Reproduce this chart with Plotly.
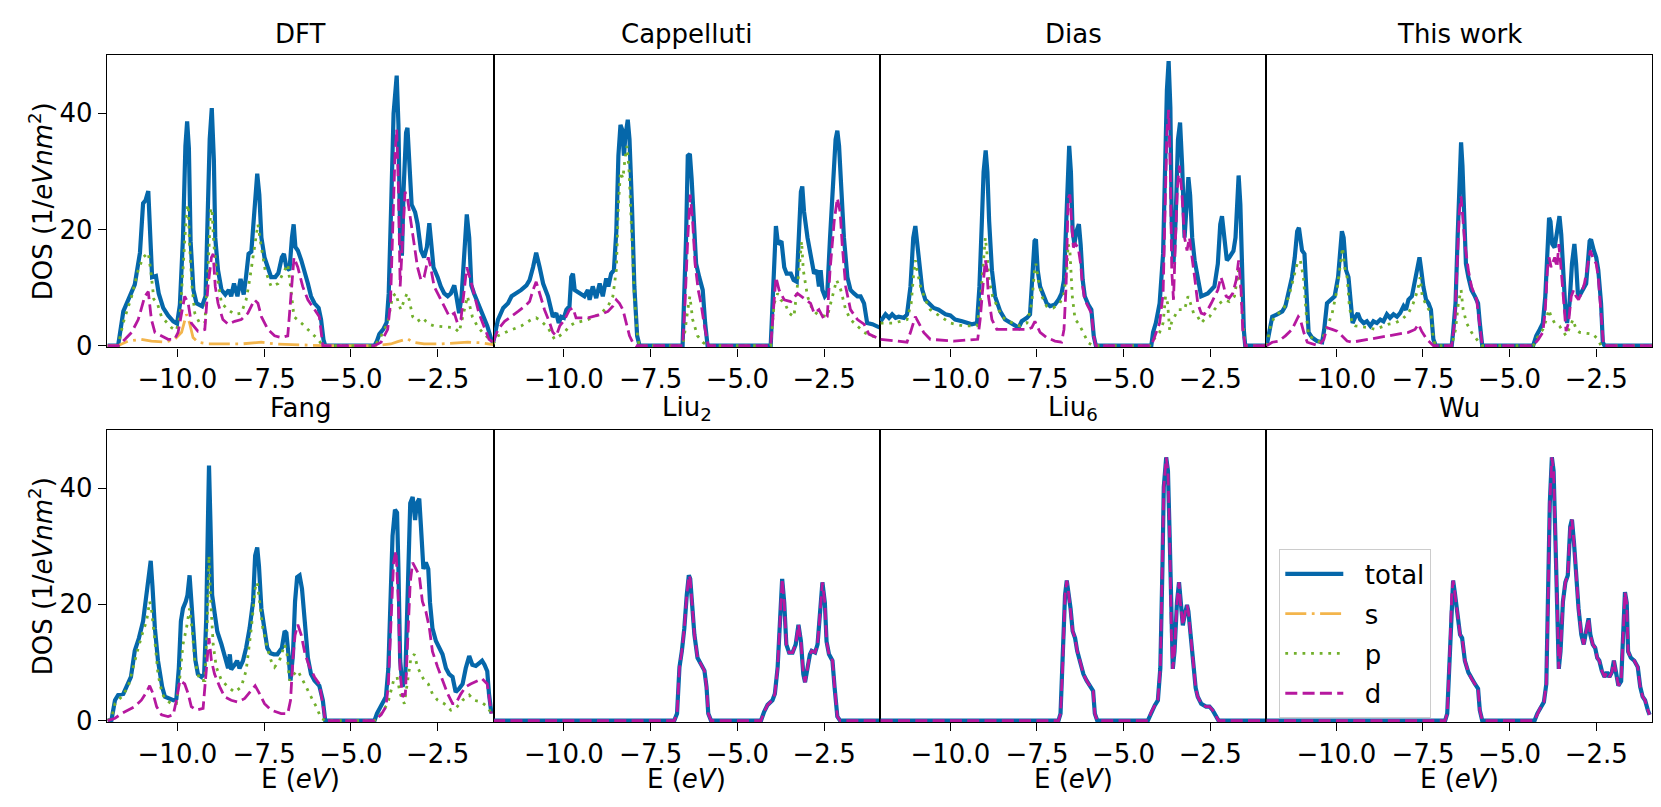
import plotly.graph_objects as go

# ---------------- data (energy in eV, DOS in 1/(eV nm^2)) ----------------
TITLES = ["DFT", "Cappelluti", "Dias", "This work", "Fang", "Liu<sub>2</sub>", "Liu<sub>6</sub>", "Wu"]
SERIES = ["total", "s", "p", "d"]
XTICK_VALS = [-10.0, -7.5, -5.0, -2.5]
XTICK_TEXT = ["\u221210.0", "\u22127.5", "\u22125.0", "\u22122.5"]
YTICK_VALS = [0, 20, 40]

# DFT
DFT_total_E = [-12.01, -11.71, -11.56, -11.37, -11.23, -11.08, -10.99, -10.92, -10.84, -10.73, -10.62, -10.54, -10.41, -10.27, -10.12, -10.01,
               -9.93, -9.84, -9.77, -9.72, -9.67, -9.62, -9.54, -9.45, -9.29, -9.19, -9.12, -9.07, -9.01, -8.95, -8.91, -8.83, -8.73, -8.62,
               -8.52, -8.45, -8.37, -8.27, -8.18, -8.09, -8.02, -7.95, -7.87, -7.80, -7.76, -7.70, -7.64, -7.58, -7.49, -7.39, -7.30, -7.18,
               -7.09, -6.99, -6.93, -6.86, -6.77, -6.70, -6.65, -6.60, -6.53, -6.43, -6.34, -6.24, -6.15, -6.05, -5.93, -5.86, -5.79, -5.74,
               -4.32, -4.25, -4.18, -4.07, -3.97, -3.91, -3.84, -3.77, -3.68, -3.63, -3.58, -3.53, -3.48, -3.41, -3.37, -3.32, -3.25, -3.15,
               -3.08, -2.98, -2.89, -2.81, -2.74, -2.70, -2.62, -2.50, -2.41, -2.31, -2.21, -2.12, -2.02, -1.96, -1.88, -1.81, -1.74, -1.66,
               -1.59, -1.53, -1.45, -1.33, -1.24, -1.14, -1.07, -0.95, -0.90]
DFT_total = [0, 0, 5.9, 8.5, 10.5, 16, 24.5, 25, 26.6, 11.8, 12, 9, 6.5, 5.2, 4.2, 3.8,
             7, 18.6, 34.4, 38.6, 34, 18, 9.6, 7.3, 6.8, 8.5, 24, 35.5, 40.9, 32, 18.6, 13, 9.6, 8.8,
             9.6, 8.5, 10.7, 8.5, 11.5, 8.8, 12, 15.8, 16.2, 22, 27, 29.6, 26, 18.6, 15.2, 13.5, 11.8, 11.8,
             12.5, 15.2, 15.8, 13.5, 13, 18.6, 20.9, 17, 16.4, 14.7, 13, 10.7, 8.5, 7.3, 6.5, 4.5, 1, 0,
             0, 0.8, 2, 2.8, 4, 9, 24, 40, 46.5, 38, 18.6, 15.5, 27, 36.7, 37.5, 33, 24.3, 23,
             21, 16.4, 15.2, 17, 21.1, 18.6, 13.5, 11.8, 10.2, 9, 8.5, 9, 10.4, 8.5, 5.6, 8.5, 16.4, 22.6,
             18.6, 10.4, 9, 7.3, 5.6, 4.5, 3.4, 1, 0.5]
DFT_s_E = [-12.01, -11.71, -11.42, -11.04, -10.75, -10.36, -10.08, -9.88, -9.74, -9.65, -9.55, -9.41, -9.12, -8.16, -7.58, -7.20, -6.24, -5.81,
           -4.32, -3.85, -3.65, -3.37, -3.22, -2.89, -2.41, -1.63, -1.25, -0.90]
DFT_s = [0, 0, 0.8, 1.1, 0.8, 0.6, 1.1, 2.3, 5.4, 3.9, 1.4, 0.6, 0.3, 0.3, 0.6, 0.3, 0.1, 0,
         0, 0.3, 0.7, 1.2, 0.6, 0.3, 0.3, 0.6, 0.5, 0.2]
DFT_p_E = [-12.01, -11.71, -11.56, -11.32, -11.13, -10.99, -10.84, -10.77, -10.68, -10.58, -10.46, -10.17, -10.03, -9.93, -9.84, -9.74, -9.69,
           -9.65, -9.58, -9.50, -9.36, -9.21, -9.12, -9.04, -9.00, -8.95, -8.88, -8.73, -8.54, -8.35, -8.16, -8.02, -7.92, -7.78, -7.68,
           -7.58, -7.47, -7.30, -7.10, -6.91, -6.82, -6.74, -6.64, -6.43, -6.24, -5.95, -5.81,
           -4.32, -4.18, -3.94, -3.80, -3.70, -3.63, -3.56, -3.46, -3.38, -3.32, -3.22, -3.08, -2.93, -2.84, -2.74, -2.60, -2.02, -1.88,
           -1.74, -1.64, -1.50, -1.36, -1.21, -1.02, -0.90]
DFT_p = [0, 0, 4, 8.5, 13, 15.2, 16, 13, 8, 7.3, 5, 3.1, 2.6, 5, 13, 23, 24.3,
         17.5, 10.2, 5.6, 3.9, 3.9, 13, 23.7, 23, 17.5, 13, 7.3, 6.2, 5.4, 5.6, 7.9, 11.3, 16.9, 20.9,
         16.9, 13, 10.2, 10.7, 13, 14, 10.2, 5, 3.9, 2.8, 1.1, 0,
         0, 1.1, 3.9, 8.5, 9, 7.3, 6.2, 7.9, 9, 7.9, 5, 4.2, 4.8, 4.2, 3.7, 3.4, 3.1, 2.3,
         6.2, 8.5, 5, 3.4, 2.3, 1.1, 0.5]
DFT_d_E = [-12.01, -11.71, -11.51, -11.32, -11.13, -10.94, -10.84, -10.75, -10.65, -10.46, -10.27, -10.08, -9.98, -9.88, -9.79, -9.69, -9.60,
           -9.41, -9.21, -9.12, -9.02, -8.97, -8.91, -8.83, -8.69, -8.54, -8.35, -8.16, -7.97, -7.78, -7.68, -7.58, -7.39, -7.20, -7.01,
           -6.82, -6.72, -6.64, -6.53, -6.39, -6.24, -6.05, -5.91, -5.81,
           -4.32, -4.13, -3.94, -3.86, -3.80, -3.73, -3.68, -3.63, -3.58, -3.51, -3.44, -3.37, -3.27, -3.17, -3.08, -2.98, -2.89, -2.77,
           -2.70, -2.60, -2.46, -2.31, -2.17, -2.02, -1.93, -1.83, -1.74, -1.66, -1.55, -1.45, -1.31, -1.17, -1.02, -0.90]
DFT_d = [0, 0, 1.1, 2.3, 4.5, 8.5, 9.3, 4.5, 2.3, 1.7, 1.1, 1.1, 2.3, 5.6, 8.5, 7.3, 3.9,
         2.5, 2.8, 10.2, 15.2, 15.8, 10.2, 7.3, 4.5, 3.7, 4.2, 4.5, 5.6, 7.9, 7.3, 5, 2.8, 1.7, 1.4,
         1.7, 9.6, 15.2, 13.5, 10.2, 7.9, 6.2, 5, 0,
         0, 0.6, 2.8, 7.3, 18.6, 32.7, 37.2, 27, 10.2, 18.6, 26.5, 25.4, 21.4, 17.5, 13.5, 11.3, 11.8, 15.2,
         13.5, 10.2, 8.5, 6.8, 5.1, 5.6, 3.9, 4.5, 9.6, 13.5, 11.3, 9, 5.6, 3.4, 1.1, 0.6]

# Cappelluti
CAP_total_E = [-12.04, -11.90, -11.75, -11.61, -11.51, -11.37, -11.23, -11.08, -10.99, -10.89, -10.80, -10.70, -10.60, -10.46, -10.32, -10.22,
               -10.15, -10.08, -10.00, -9.93, -9.84, -9.79, -9.74, -9.69, -9.60, -9.50, -9.41, -9.31, -9.26, -9.17, -9.07, -8.97, -8.88,
               -8.78, -8.72, -8.64, -8.56, -8.49, -8.43, -8.37, -8.32, -8.27, -8.23, -8.16, -8.11, -8.04, -7.97, -7.89, -7.82,
               -6.58, -6.53, -6.48, -6.43, -6.37, -6.32, -6.26, -6.19, -6.10, -6.00, -5.93, -5.86,
               -4.04, -3.99, -3.94, -3.89, -3.83, -3.73, -3.65, -3.58, -3.46, -3.38, -3.29, -3.22, -3.17, -3.13, -3.08, -2.98, -2.89, -2.79,
               -2.71, -2.65, -2.60, -2.55, -2.48, -2.41, -2.33, -2.26, -2.17, -2.12, -2.07, -2.00, -1.93, -1.83, -1.74, -1.64, -1.54, -1.45,
               -1.35, -1.26, -1.11, -0.89]
CAP_total = [0.6, 4.5, 6.5, 7.3, 8.5, 9, 9.6, 10.4, 11.3, 13.5, 16, 13.5, 10.7, 8.5, 5, 5.6,
             3.9, 5, 4.8, 6.2, 6.8, 11.8, 12.4, 9.6, 9.3, 9, 8.5, 9.6, 7.9, 10.2, 8.2, 10.7, 8.5,
             11.6, 10.2, 12.4, 13, 19.7, 32.7, 38, 37.2, 32.7, 36, 38.9, 35.5, 24.3, 10.2, 1.7, 0,
             0, 7.3, 18.6, 32.7, 33, 28.8, 21.4, 14.1, 11.8, 9.6, 3.9, 0,
             0, 7.3, 17.5, 20.6, 17.5, 18, 13.5, 12.4, 12.4, 11.3, 11, 18.6, 26.5, 27.4, 23.1, 18.6, 15.2, 12.4,
             13, 10.2, 13, 9.6, 8.5, 9, 18.6, 27, 35.5, 37, 34.4, 26.5, 18.6, 11.8, 9.6, 9, 8.5, 8.5,
             7.3, 3.9, 3.7, 3.1]
CAP_p_E = [-12.04, -11.90, -11.61, -11.23, -10.94, -10.80, -10.65, -10.46, -10.27, -10.12, -9.98, -9.84, -9.69, -9.50, -9.31, -9.12, -8.93,
           -8.73, -8.59, -8.49, -8.43, -8.37, -8.30, -8.24, -8.18, -8.12, -8.06, -7.97, -7.87, -7.82,
           -6.58, -6.53, -6.43, -6.37, -6.29, -6.15, -6.00, -5.86,
           -4.04, -3.94, -3.84, -3.75, -3.63, -3.51, -3.37, -3.22, -3.15, -3.10, -2.98, -2.84, -2.69, -2.41, -2.26, -2.14, -2.02, -1.88,
           -1.74, -1.54, -1.35, -1.16, -0.89]
CAP_p = [0.3, 1.7, 2.5, 3.4, 4.5, 4.8, 4.2, 3.1, 1.1, 1.7, 2.3, 3.4, 3.9, 4.2, 4.5, 5, 5.6,
         6.8, 8.5, 13, 24.3, 29.9, 28.8, 32.2, 34.4, 29.9, 21.4, 8.5, 1.1, 0,
         0, 1.7, 6.2, 8.5, 4.5, 1.7, 0.6, 0,
         0, 7.3, 9, 7.9, 7.3, 5.6, 5, 13, 18, 13, 8.5, 6.2, 5.4, 5, 8.5, 11.3, 9.6, 6.2,
         4.5, 3.4, 2.3, 1.7, 1.4]
CAP_d_E = [-12.04, -11.90, -11.71, -11.51, -11.32, -11.13, -10.99, -10.89, -10.80, -10.70, -10.56, -10.41, -10.32, -10.22, -10.12, -9.98,
           -9.84, -9.74, -9.65, -9.31, -8.93, -8.73, -8.59, -8.49, -8.40, -8.30, -8.21, -8.11, -8.02, -7.92,
           -6.58, -6.51, -6.43, -6.36, -6.29, -6.22, -6.13, -6.05, -5.95, -5.84,
           -4.04, -3.96, -3.89, -3.80, -3.65, -3.46, -3.27, -3.03, -2.89, -2.79, -2.65, -2.50, -2.41, -2.33, -2.21, -2.12, -2.04, -1.98,
           -1.88, -1.74, -1.54, -1.35, -1.21, -0.89]
CAP_d = [0.6, 2.8, 4.2, 5, 5.9, 6.8, 7.6, 9.6, 11, 9, 6.2, 3.9, 2.3, 1.7, 3.4, 4.5,
         6.2, 6.5, 4.8, 4.8, 5.4, 5.9, 6.8, 7.9, 7.3, 6.2, 3.9, 1.7, 0.6, 0,
         0, 7.3, 18.6, 26, 21.4, 14.1, 9.6, 7.3, 3.4, 0,
         0, 7.3, 11.8, 9.6, 7.9, 7.6, 9, 7.9, 7.3, 5.6, 6.2, 4.5, 5, 13, 21.4, 25.4, 23.1, 17.5,
         10.2, 6.2, 4.5, 3.7, 2, 1.1]

# Dias
DIAS_total_E = [-12.01, -11.87, -11.77, -11.68, -11.58, -11.49, -11.34, -11.25, -11.15, -11.07, -11.01, -10.96, -10.89, -10.81, -10.72, -10.62,
                -10.48, -10.34, -10.14, -10.00, -9.86, -9.66, -9.52, -9.38, -9.23, -9.16, -9.09, -9.04, -8.98, -8.93, -8.88, -8.80, -8.71,
                -8.56, -8.42, -8.27, -8.13, -8.03, -7.94, -7.79, -7.70, -7.62, -7.57, -7.53, -7.48, -7.41, -7.32, -7.22, -7.12, -6.98,
                -6.88, -6.79, -6.72, -6.66, -6.62, -6.57, -6.52, -6.47, -6.42, -6.36, -6.29, -6.24, -6.18, -6.12, -6.02, -5.93, -5.86, -5.80,
                -4.20, -4.15, -4.07, -3.96, -3.86, -3.80, -3.75, -3.70, -3.65, -3.61, -3.56, -3.50, -3.43, -3.37, -3.31, -3.24, -3.17, -3.13,
                -3.08, -3.02, -2.95, -2.86, -2.76, -2.57, -2.38, -2.28, -2.21, -2.16, -2.09, -2.02, -1.95, -1.83, -1.77, -1.73, -1.68, -1.63,
                -1.58, -1.53, -1.49, -0.89]
DIAS_total = [4.2, 5.4, 4.8, 5.4, 4.8, 5, 4.8, 5.4, 10.2, 18.6, 20.6, 17.5, 13, 9.6, 7.9, 7.3,
              6.5, 6.2, 5.4, 5.2, 4.5, 4.2, 3.9, 3.7, 3.9, 10.2, 21.4, 29.9, 33.6, 29.9, 21.4, 13, 8.5,
              5.9, 4.5, 3.9, 3.4, 3.1, 4.2, 4.8, 5.4, 11.8, 18, 18.3, 13, 10.2, 9, 7.3, 6.8, 7.1,
              7.9, 9, 11.3, 21.4, 31, 34.4, 29.9, 19.7, 17.5, 19.7, 20.9, 17.5, 11.3, 8.5, 7.1, 6.2, 1.6, 0,
              0, 2.3, 3.9, 7.3, 15.8, 32.7, 44, 49, 41, 21.4, 14.1, 21.4, 35.5, 38.4, 31, 18.6, 24.3, 29,
              25.9, 18.6, 14.7, 11.3, 8.5, 9, 10.2, 14.1, 20.9, 22.3, 18.6, 14.7, 15.2, 16.3, 18.6, 24.3, 29.3, 24.3,
              13, 2.7, 0, 0]
DIAS_p_E = [-12.01, -11.63, -11.25, -11.13, -11.05, -11.01, -10.96, -10.86, -10.72, -10.58, -10.38, -10.00, -9.62, -9.23, -9.14, -9.06,
            -8.99, -8.95, -8.88, -8.78, -8.66, -8.51, -8.32, -7.99, -7.79, -7.65, -7.57, -7.53, -7.46, -7.36, -7.22, -7.03, -6.84, -6.72,
            -6.64, -6.60, -6.55, -6.48, -6.40, -6.31, -6.21, -6.12, -6.02, -5.88,
            -4.25, -4.10, -3.96, -3.86, -3.79, -3.73, -3.67, -3.62, -3.53, -3.43, -3.24, -3.14, -3.07, -2.98, -2.86, -2.76, -2.67, -2.52,
            -2.38, -2.23, -2.09, -1.95, -1.80, -1.68, -1.61, -1.56, -1.49, -0.89]
DIAS_p = [3.9, 3.9, 4.5, 7.3, 13, 14.7, 13, 10.2, 7.9, 6.2, 5.4, 3.9, 3.4, 3.4, 7.3, 14.1,
          18.6, 16.4, 11.3, 8.5, 6.8, 5, 4.2, 3.4, 3.9, 7.3, 13, 14.1, 11.3, 8.5, 6.8, 6.5, 7.3, 9,
          13, 17.5, 16.4, 8.5, 4.5, 3.9, 2.8, 1.6, 0.5, 0,
          0, 1.3, 2.3, 3.9, 8.5, 7.3, 2.7, 3.9, 5, 6.2, 6.2, 8.5, 7.3, 5.6, 5, 3.9, 4.5, 5,
          6.2, 7.3, 7.9, 7.6, 8.5, 13, 9.6, 3.9, 0, 0]
DIAS_d_E = [-12.01, -11.25, -11.15, -11.07, -11.01, -10.91, -10.77, -10.58, -9.90, -9.21, -9.14, -9.06, -8.99, -8.95, -8.90, -8.80, -8.66,
            -7.79, -7.65, -7.56, -7.41, -7.22, -6.98, -6.79, -6.72, -6.66, -6.60, -6.55, -6.50, -6.45, -6.39, -6.31, -6.24, -6.18, -6.12,
            -6.02, -5.93, -5.86, -5.80,
            -4.20, -4.10, -3.96, -3.86, -3.81, -3.75, -3.70, -3.65, -3.61, -3.56, -3.50, -3.45, -3.39, -3.32, -3.24, -3.17, -3.10, -3.02,
            -2.95, -2.86, -2.76, -2.67, -2.57, -2.47, -2.38, -2.28, -2.19, -2.13, -2.04, -1.95, -1.85, -1.75, -1.68, -1.61, -1.56, -1.49,
            -0.89]
DIAS_d = [1.1, 0.6, 2.3, 3.9, 5, 3.9, 2.3, 1.1, 0.8, 1.1, 4.5, 10.2, 14.7, 13.5, 8.5, 4.5, 2.8,
          2.8, 3.1, 4.2, 2.3, 1.4, 0.8, 0.6, 2.8, 10.2, 25.4, 26, 21.4, 16.9, 17.5, 16.9, 14.1, 10.2, 7.9,
          6.8, 5.6, 1.6, 0,
          0, 1.6, 3.9, 9, 24.3, 36.7, 40.6, 29.9, 13, 7.9, 18.6, 27, 31, 26.5, 18.6, 16.4, 18.6, 15.2,
          11.8, 7.3, 5.6, 5.4, 6.2, 7.3, 8.5, 9.6, 11.8, 10.7, 8.5, 8.2, 9, 11.3, 14.7, 9.6, 2.7, 0,
          0]

# This work
TW_total_E = [-12.01, -11.95, -11.85, -11.71, -11.56, -11.47, -11.37, -11.28, -11.20, -11.13, -11.08, -11.04, -10.99, -10.92, -10.87, -10.80,
              -10.70, -10.56, -10.41, -10.35, -10.27, -10.17, -10.05, -9.95, -9.88, -9.84, -9.79, -9.72, -9.65, -9.60, -9.53, -9.45, -9.38,
              -9.31, -9.21, -9.12, -9.02, -8.93, -8.83, -8.73, -8.64, -8.54, -8.45, -8.35, -8.25, -8.16, -8.06, -7.99, -7.92, -7.82, -7.73,
              -7.66, -7.60, -7.56, -7.49, -7.41, -7.34, -7.27, -7.20, -7.13,
              -6.67, -6.63, -6.56, -6.50, -6.45, -6.40, -6.36, -6.31, -6.26, -6.19, -6.10, -6.00, -5.91, -5.86, -5.79,
              -4.32, -4.23, -4.13, -4.04, -3.97, -3.91, -3.86, -3.82, -3.77, -3.70, -3.63, -3.56, -3.51, -3.46, -3.39, -3.34, -3.27, -3.20,
              -3.13, -3.08, -3.03, -2.99, -2.89, -2.79, -2.69, -2.65, -2.57, -2.50, -2.44, -2.36, -2.31, -2.26, -0.89]
TW_total = [0, 1.7, 5, 5.4, 5.9, 6.8, 9.6, 11.8, 15.2, 19.7, 20.3, 18.6, 16.4, 15.8, 9.6, 2.3,
            1.4, 0.8, 0.6, 2.8, 7.3, 7.9, 8.5, 11.8, 16.9, 19.7, 18.6, 13, 11.8, 9, 3.9, 5, 5.6,
            4.5, 3.9, 4.2, 3.4, 4.2, 3.9, 4.5, 4.2, 5.4, 4.8, 5.4, 5, 5.6, 6.8, 6.2, 7.9, 8.5, 11.3,
            14.1, 15.2, 13.5, 10.2, 7.9, 7.3, 6.2, 1.1, 0,
            0, 2.3, 7.3, 18.6, 29.9, 35, 31, 21.4, 14.1, 11.8, 9.6, 8.5, 7.3, 3.9, 0,
            0, 1.7, 2.8, 3.9, 8.5, 15.8, 22, 21.4, 17.5, 16.9, 20.3, 22.3, 19.2, 13, 6.2, 3.9, 7.3, 14.1,
            17.5, 14.1, 9, 8.5, 9.6, 10.7, 18, 18.3, 16.4, 15.2, 13, 7.3, 0.6, 0, 0]
TW_p_E = [-12.01, -11.90, -11.80, -11.66, -11.51, -11.37, -11.23, -11.13, -11.04, -10.95, -10.87, -10.80, -10.46, -10.32, -10.22, -10.12,
          -9.98, -9.88, -9.82, -9.76, -9.69, -9.63, -9.55, -9.45, -9.07, -8.88, -8.49, -8.30, -8.11, -7.92, -7.78, -7.65, -7.58, -7.52,
          -7.39, -7.27, -7.20, -7.13,
          -6.67, -6.56, -6.48, -6.40, -6.34, -6.24, -6.10, -5.91, -5.79,
          -4.32, -4.17, -4.04, -3.94, -3.87, -3.80, -3.70, -3.56, -3.46, -3.37, -3.27, -3.17, -3.08, -2.98, -2.60, -2.45, -2.36, -0.89]
TW_p = [0, 3.4, 4.8, 5.6, 6.5, 8.5, 11.8, 14.1, 14.7, 11.8, 5.6, 1.7, 0.6, 2.3, 3.9, 5.6,
        9.6, 14.1, 16.9, 13.5, 11.8, 7.3, 3.9, 3.4, 3.1, 2.8, 3.7, 3.9, 4.5, 5.6, 7.3, 9.6, 11.8, 8.5,
        6.8, 5.6, 1.1, 0,
        0, 2.8, 7.3, 9.6, 6.2, 3.9, 2.3, 0.8, 0,
        0, 1.7, 2.8, 4.5, 6.2, 5, 3.9, 3.4, 2.5, 1.7, 3.1, 4.5, 2.8, 2.3, 2, 1.1, 0, 0]
TW_d_E = [-12.01, -11.85, -11.66, -11.47, -11.28, -11.18, -11.10, -11.04, -10.94, -10.84, -10.51, -10.36, -10.27, -10.12, -9.98, -9.84,
          -9.69, -9.55, -9.07, -8.49, -7.92, -7.73, -7.63, -7.54, -7.39, -7.20,
          -6.67, -6.58, -6.51, -6.45, -6.40, -6.36, -6.29, -6.19, -6.10, -5.95, -5.86, -5.79,
          -4.32, -4.17, -4.04, -3.97, -3.91, -3.86, -3.80, -3.70, -3.63, -3.58, -3.51, -3.44, -3.37, -3.30, -3.22, -3.15, -3.08, -3.01,
          -2.93, -2.84, -2.74, -2.67, -2.60, -2.50, -2.44, -2.36, -2.29, -0.89]
TW_d = [0, 0.6, 0.8, 1.7, 2.8, 3.9, 5, 4.5, 2.3, 0.6, 0, 1.1, 3.1, 2.8, 2.5, 1.7,
        0.8, 0.6, 1.1, 1.7, 2.3, 2.8, 3.7, 2.5, 1.1, 0,
        0, 4.5, 14.1, 23.1, 25.7, 23.1, 17.5, 13, 10.2, 7.9, 3.9, 0,
        0, 1.1, 2.3, 6.2, 13, 15.2, 13.5, 15.2, 13.5, 17.5, 13, 7.3, 2.5, 3.9, 8.5, 9.6, 8.5, 7.9,
        9, 10.7, 14.1, 16.4, 15.2, 14.1, 11.8, 6.2, 0, 0]

# Fang
FANG_total_E = [-12.01, -11.90, -11.80, -11.71, -11.56, -11.47, -11.34, -11.23, -11.11, -10.99, -10.89, -10.82, -10.77, -10.72, -10.65, -10.56,
                -10.44, -10.36, -10.27, -10.12, -10.03, -9.96, -9.90, -9.84, -9.76, -9.71, -9.65, -9.60, -9.55, -9.48, -9.41, -9.31, -9.23,
                -9.17, -9.12, -9.09, -9.05, -9.00, -8.93, -8.85, -8.73, -8.64, -8.54, -8.49, -8.45, -8.35, -8.28, -8.21, -8.11, -8.02, -7.92,
                -7.82, -7.76, -7.70, -7.65, -7.58, -7.51, -7.41, -7.32, -7.22, -7.12, -7.06, -6.99, -6.91, -6.86, -6.80, -6.74, -6.67, -6.61,
                -6.55, -6.48, -6.41, -6.34, -6.24, -6.15, -6.05, -5.91, -5.81, -5.74,
                -4.32, -4.25, -4.13, -3.99, -3.92, -3.86, -3.80, -3.73, -3.67, -3.63, -3.58, -3.51, -3.43, -3.37, -3.29, -3.22, -3.15, -3.10,
                -3.03, -2.98, -2.91, -2.84, -2.77, -2.72, -2.65, -2.55, -2.45, -2.36, -2.26, -2.17, -2.07, -1.98, -1.88, -1.78, -1.69, -1.59,
                -1.50, -1.40, -1.30, -1.22, -1.15, -1.07, -1.02, -0.95]
FANG_total = [0, 0.1, 3.5, 4.4, 4.6, 5.8, 7.5, 12, 14.2, 17.1, 21.6, 26.1, 27.5, 23.2, 15.9, 10.3,
              5.8, 4.1, 3.8, 3.5, 3.8, 9, 17.1, 19.3, 20.5, 21.6, 25, 20.3, 15.9, 10.3, 8, 7.5, 8,
              17.5, 34.5, 43.9, 34.5, 21.6, 18.6, 15.3, 13.1, 10.8, 9, 11.4, 8.8, 9.6, 10.3, 9, 10.3, 12.5, 15.9,
              20.5, 28.4, 29.8, 26.6, 19.3, 15.9, 12.5, 11.6, 11.4, 11.4, 12, 12.5, 15.4, 15.1, 11.4, 6.9, 11.4, 20.5,
              24.7, 25, 22.7, 17.1, 10.8, 8, 6.9, 6, 3.5, 0,
              0, 1.2, 2.4, 4.1, 9, 20.5, 31.8, 36.3, 35.8, 26.1, 10.3, 5.8, 8, 20.5, 37.4, 38.5, 34.5, 37.4,
              38.2, 33.3, 26.1, 27.2, 26.1, 20.3, 15.9, 13.7, 12.5, 11.4, 9, 8, 7.5, 4.9, 5.5, 6.3, 9, 11.1,
              9.6, 9.4, 9.9, 10.3, 9.6, 8.5, 4.6, 1.2]
FANG_p_E = [-12.01, -11.90, -11.80, -11.61, -11.42, -11.28, -11.13, -10.99, -10.89, -10.80, -10.75, -10.65, -10.56, -10.44, -10.32, -10.17,
            -10.03, -9.93, -9.84, -9.74, -9.65, -9.58, -9.50, -9.36, -9.21, -9.14, -9.09, -9.04, -8.97, -8.88, -8.73, -8.54, -8.35, -8.16,
            -8.02, -7.87, -7.76, -7.70, -7.63, -7.54, -7.41, -7.30, -7.20, -7.06, -6.91, -6.84, -6.77, -6.64, -6.53, -6.43, -6.29, -6.15,
            -6.00, -5.86, -5.74,
            -4.32, -4.13, -3.94, -3.84, -3.77, -3.67, -3.58, -3.46, -3.37, -3.27, -3.17, -3.08, -2.98, -2.89, -2.77, -2.65, -2.50, -2.31,
            -2.12, -1.98, -1.78, -1.59, -1.45, -1.25, -1.07, -0.95]
FANG_p = [0, 0.4, 2.9, 4.1, 5.8, 9.2, 12.5, 15.4, 17.1, 20.5, 19.3, 13.7, 8, 4.6, 3.5, 2.9,
          2.9, 7.5, 13.1, 15.9, 19.3, 15.9, 10.3, 6.9, 6.9, 17.1, 28.4, 20.5, 13.1, 9.2, 6.9, 5.8, 4.9, 5.8,
          8.6, 15.9, 22.7, 23.8, 20.3, 15.9, 12.5, 10.3, 9.2, 10.3, 13.1, 11.4, 6.9, 8, 8.6, 7.5, 5.8, 4.1,
          2.4, 0.4, 0,
          0, 1.2, 2.9, 5.1, 6.9, 7.5, 4.6, 2.9, 6.3, 10.8, 11.4, 9.2, 8, 6.9, 6.3, 4.6, 3.5, 2.9,
          1.8, 2.1, 3.5, 4.4, 3.5, 3.2, 2.4, 1.2]
FANG_d_E = [-12.01, -11.80, -11.61, -11.42, -11.23, -11.04, -10.89, -10.80, -10.70, -10.60, -10.46, -10.27, -10.12, -10.03, -9.93, -9.79,
            -9.69, -9.60, -9.45, -9.26, -9.17, -9.09, -9.02, -8.93, -8.78, -8.64, -8.45, -8.26, -8.06, -7.92, -7.76, -7.63, -7.49, -7.30,
            -7.01, -6.82, -6.74, -6.67, -6.61, -6.53, -6.43, -6.32, -6.19, -6.05, -5.91, -5.81, -5.74,
            -4.32, -4.13, -3.99, -3.92, -3.84, -3.77, -3.70, -3.63, -3.58, -3.51, -3.43, -3.37, -3.29, -3.22, -3.13, -3.03, -2.94, -2.84,
            -2.74, -2.65, -2.50, -2.36, -2.21, -2.07, -1.98, -1.83, -1.69, -1.55, -1.36, -1.22, -1.07, -0.95]
FANG_d = [0, 0.4, 1.2, 1.8, 2.4, 3.5, 4.9, 6, 4.6, 2.4, 1, 0.7, 1, 3.5, 6.9, 6.3,
          4.6, 2.4, 1.8, 2.1, 9.2, 14.2, 10.3, 8, 5.8, 4.1, 3.5, 3.2, 3.8, 4.9, 6, 4.6, 2.9, 1.8,
          1.2, 1.2, 3.5, 10.8, 14.7, 16.5, 14.7, 11.4, 9.2, 7.5, 6.3, 2.9, 0,
          0, 1, 2.4, 6.3, 17.5, 27.2, 29.2, 20.3, 8, 4.1, 4.6, 11.9, 23.8, 27.2, 26.1, 25, 20.5, 18.8,
          16, 11.9, 9.2, 6.9, 4.6, 2.9, 2.9, 4.6, 5.8, 6.3, 6.9, 7.2, 6.3, 1.2]

# Liu2 (d coincides with total)
LIU2_E = [-12.04, -6.82, -6.74, -6.67, -6.60, -6.53, -6.46, -6.40, -6.36, -6.31, -6.24, -6.15, -6.05, -5.95, -5.89, -5.84, -5.76,
          -4.32, -4.23, -4.13, -3.99, -3.92, -3.84, -3.77, -3.71, -3.65, -3.59, -3.51, -3.41, -3.32, -3.24, -3.17, -3.10, -3.05, -2.98,
          -2.91, -2.86, -2.76, -2.69, -2.62, -2.55, -2.48, -2.43, -2.36, -2.26, -2.20, -2.12, -2.04, -0.89]
LIU2_total = [0, 0, 1.2, 9.2, 12, 15.9, 21.6, 25, 24.4, 20.3, 14.8, 10.8, 9.6, 8.6, 5.8, 1.2, 0,
              0, 1.5, 2.7, 3.5, 4.6, 9.2, 17.7, 24.4, 20.3, 13.1, 11.7, 11.7, 13.1, 16.5, 13.7, 8, 6.6, 9.2,
              11.4, 12, 11.7, 13.1, 19.3, 23.8, 20.3, 13.6, 11.4, 10.3, 5.8, 0.7, 0, 0]

# Liu6 (d coincides with total)
LIU6_E = [-12.01, -6.88, -6.82, -6.76, -6.69, -6.64, -6.60, -6.53, -6.47, -6.40, -6.34, -6.26, -6.16, -6.07, -5.97, -5.88, -5.83, -5.76,
          -4.30, -4.20, -4.10, -4.01, -3.94, -3.88, -3.84, -3.77, -3.72, -3.67, -3.62, -3.58, -3.53, -3.46, -3.40, -3.36, -3.29, -3.24,
          -3.17, -3.13, -3.07, -3.00, -2.92, -2.86, -2.76, -2.62, -2.52, -2.43, -2.33, -2.26, -0.89]
LIU6_total = [0, 0, 1.2, 9.2, 21.6, 24.1, 22.7, 19.3, 15.4, 14.2, 12, 10.3, 8, 6.9, 6, 5.1, 1.2, 0,
              0, 1.5, 2.6, 3.5, 9, 26, 40.2, 45.3, 43, 31.8, 14.7, 8.9, 11.9, 20.3, 23.8, 20.3, 16.4, 18.1,
              19.9, 18.8, 14.7, 10.3, 5.6, 4.1, 2.9, 2.4, 2.4, 1.8, 0.7, 0, 0]

# Wu (d coincides with total)
WU_E = [-12.01, -6.86, -6.80, -6.74, -6.67, -6.63, -6.58, -6.51, -6.43, -6.37, -6.29, -6.19, -6.10, -6.00, -5.91, -5.86, -5.79,
        -4.28, -4.20, -4.10, -4.01, -3.94, -3.89, -3.84, -3.78, -3.73, -3.68, -3.63, -3.58, -3.53, -3.46, -3.39, -3.32, -3.25, -3.20,
        -3.14, -3.08, -3.01, -2.93, -2.86, -2.79, -2.72, -2.67, -2.60, -2.53, -2.47, -2.41, -2.34, -2.26, -2.19, -2.12, -2.05, -1.99,
        -1.93, -1.86, -1.78, -1.72, -1.67, -1.62, -1.58, -1.50, -1.40, -1.30, -1.23, -1.16, -1.09, -1.01, -0.96]
WU_total = [0, 0, 1.2, 9.2, 21.6, 24.1, 22, 18.1, 14.8, 14.2, 10.3, 8.3, 7.2, 6.3, 5.5, 1.8, 0,
            0, 1.2, 2.4, 3.2, 6.3, 20.3, 37.3, 45.3, 43, 31.8, 17.5, 8.9, 11.9, 20.5, 23.8, 25, 33.4, 34.6,
            30.5, 25, 19.3, 14.8, 13.1, 15.4, 17.6, 14.8, 13.1, 12.5, 10.8, 10.3, 8.6, 7.5, 8.3, 7.5, 8.3, 10.3,
            8.6, 6, 6.8, 14.7, 22.1, 20.3, 11.9, 10.8, 10.3, 9.2, 5.8, 4.1, 3.5, 1.8, 1]

# ---------------- styling ----------------
COLORS = {"total": "#0567aa", "s": "#f3b54c", "p": "#72b02c", "d": "#b6189f"}
WIDTHS = {"total": 4.2, "s": 2.8, "p": 2.8, "d": 2.8}
DASHES = {"total": "solid", "s": "21px,5.5px,2.8px,5.5px", "p": "2.8px,5.8px", "d": "12px,5.3px"}
FONT = "DejaVu Sans"
FS = 26

W, H = 1661, 807
PANEL_L = [99, 485.5, 872, 1258]
PANEL_R = [485.5, 872, 1258, 1644]
ROW_T = [48, 429]
ROW_B = [345, 726]
XRANGE = [-12.03, -0.89]
YRANGE = [-0.3, 50]

panels = [
    {"total": (DFT_total_E, DFT_total), "s": (DFT_s_E, DFT_s), "p": (DFT_p_E, DFT_p), "d": (DFT_d_E, DFT_d)},
    {"total": (CAP_total_E, CAP_total), "p": (CAP_p_E, CAP_p), "d": (CAP_d_E, CAP_d)},
    {"total": (DIAS_total_E, DIAS_total), "p": (DIAS_p_E, DIAS_p), "d": (DIAS_d_E, DIAS_d)},
    {"total": (TW_total_E, TW_total), "p": (TW_p_E, TW_p), "d": (TW_d_E, TW_d)},
    {"total": (FANG_total_E, FANG_total), "p": (FANG_p_E, FANG_p), "d": (FANG_d_E, FANG_d)},
    {"total": (LIU2_E, LIU2_total), "d": (LIU2_E, LIU2_total)},
    {"total": (LIU6_E, LIU6_total), "d": (LIU6_E, LIU6_total)},
    {"total": (WU_E, WU_total), "d": (WU_E, WU_total)},
]

fig = go.Figure()
layout = dict(width=W, height=H, margin=dict(l=0, r=0, t=0, b=0), autosize=False,
              paper_bgcolor="white", plot_bgcolor="white",
              font=dict(family=FONT, size=FS, color="black"))
annotations = []

for i, pdata in enumerate(panels):
    row, col = divmod(i, 4)
    k = i + 1
    xa = "x" if k == 1 else f"x{k}"
    ya = "y" if k == 1 else f"y{k}"
    for s in SERIES:
        if s not in pdata:
            continue
        xs, ys = pdata[s]
        fig.add_trace(go.Scatter(
            x=xs, y=ys, mode="lines", name=s, xaxis=xa, yaxis=ya,
            line=dict(color=COLORS[s], width=WIDTHS[s], dash=DASHES[s]),
            showlegend=False, hoverinfo="skip"))
    xdom = [PANEL_L[col] / W, PANEL_R[col] / W]
    ydom = [1 - ROW_B[row] / H, 1 - ROW_T[row] / H]
    common = dict(showline=True, linecolor="black", linewidth=1.3, mirror=True,
                  showgrid=False, zeroline=False)
    layout["xaxis" + ("" if k == 1 else str(k))] = dict(
        domain=xdom, anchor=ya, range=XRANGE, tickmode="array",
        tickvals=XTICK_VALS, ticktext=XTICK_TEXT, ticks="outside", ticklen=8, tickwidth=1.3,
        tickcolor="black", tickfont=dict(size=FS), **common)
    yax = dict(domain=ydom, anchor=xa, range=YRANGE, **common)
    if col == 0:
        yax.update(tickmode="array", tickvals=YTICK_VALS, ticks="outside", ticklen=8, tickwidth=1.3,
                   tickcolor="black", tickfont=dict(size=FS))
    else:
        yax.update(showticklabels=False, ticks="")
    layout["yaxis" + ("" if k == 1 else str(k))] = yax
    cx = (PANEL_L[col] + PANEL_R[col]) / 2 / W
    title_y = [26, 407][row]
    annotations.append(dict(text=TITLES[i], x=cx, y=1 - title_y / H, xref="paper", yref="paper",
                            xanchor="center", yanchor="middle", showarrow=False,
                            font=dict(size=FS, family=FONT)))
    if row == 1:
        annotations.append(dict(text="E (<i>eV</i>)", x=cx, y=1 - 766 / H, xref="paper", yref="paper",
                                xanchor="center", yanchor="top", showarrow=False,
                                font=dict(size=FS, family=FONT)))
    if col == 0:
        annotations.append(dict(text="DOS (1/<i>eVnm</i><sup>2</sup>)", x=33 / W,
                                y=1 - (ROW_T[row] + ROW_B[row]) / 2 / H, xref="paper", yref="paper",
                                xanchor="center", yanchor="middle", textangle=-90, showarrow=False,
                                font=dict(size=FS, family=FONT)))

# legend entries (drawn in Wu panel so styles match)
for j, s in enumerate(SERIES):
    fig.add_trace(go.Scatter(x=[None], y=[None], mode="lines", name="\u00a0\u00a0" + s, xaxis="x8", yaxis="y8",
                             line=dict(color=COLORS[s], width=WIDTHS[s], dash=DASHES[s]),
                             legendgroup=s, showlegend=True))

layout["annotations"] = annotations
layout["showlegend"] = True
layout["legend"] = dict(x=1271 / W, y=1 - 550 / H, xanchor="left", yanchor="top",
                        bgcolor="rgba(255,255,255,0.8)", bordercolor="#cccccc", borderwidth=1.3,
                        font=dict(size=FS, family=FONT), traceorder="grouped", tracegroupgap=3,
                        itemwidth=58)
fig.update_layout(**layout)
fig.write_html("out.html")
